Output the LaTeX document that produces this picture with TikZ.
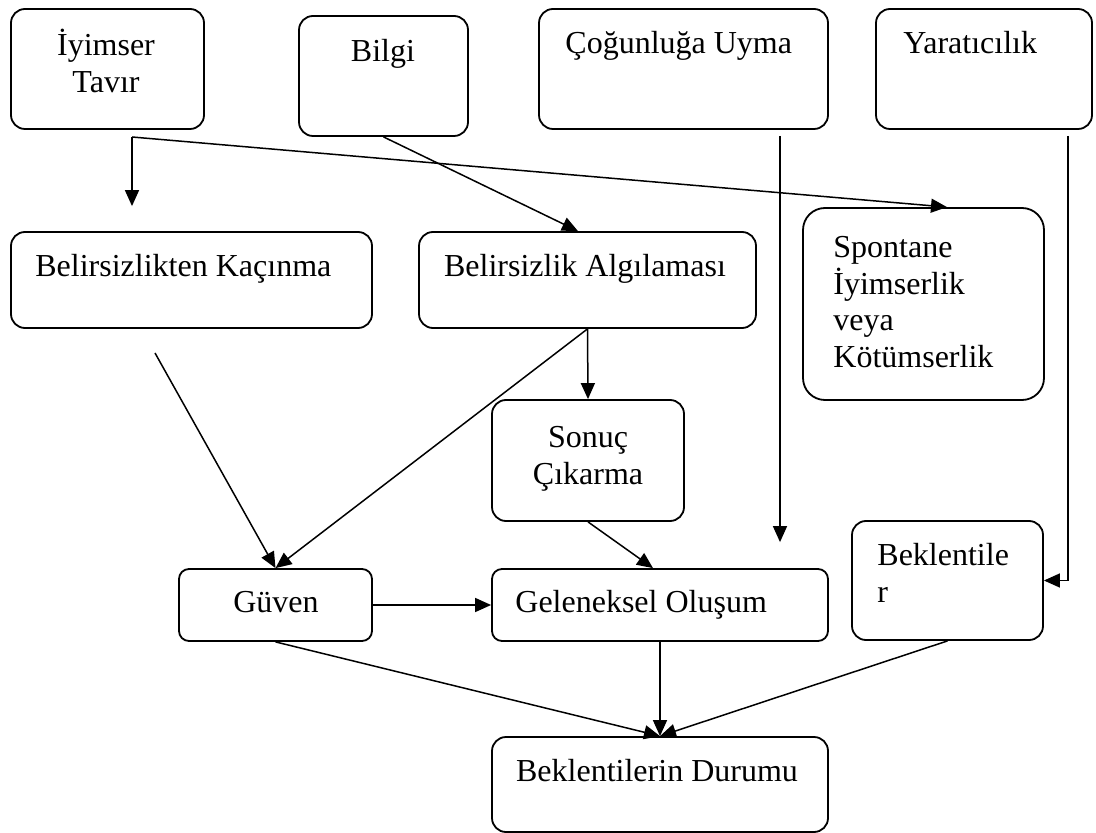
\documentclass[tikz,border=0pt]{standalone}
\usepackage{fontspec}
\setmainfont{Liberation Serif}
\usepackage{tikz}
\usetikzlibrary{
	arrows.meta,
	positioning,
	calc
}

\begin{document}
\begin{tikzpicture}[
		x=0.5pt, y=-0.5pt,
		>={Triangle[length=8pt,width=7pt]},
		box/.style={
			draw,
			line width=0.9pt,
			rounded corners=7pt,
			inner sep=0pt
		},
		txt/.style={
			inner sep=0pt,
			font=\fontsize{16}{18.4}\selectfont
		},
		conn/.style={
			->,
			line width=0.75pt
		}
		]
		\useasboundingbox (0,0) rectangle (1096,833);
		
		% Top row
		\node[box, minimum width=96.5pt, minimum height=60pt] (tavir) at (107.5,69) {};
		\node[txt, align=center, anchor=north] (tavir-t) at (106,25) {\rule{0pt}{15pt}İyimser\\Tavır};
		\node[box, minimum width=84.5pt, minimum height=60pt] (bilgi) at (383.5,76) {};
		\node[txt, anchor=base] (bilgi-t) at (383,62) {Bilgi};
		\node[box, minimum width=144.5pt, minimum height=60pt] (cogunluk) at (683.5,69) {};
		\node[txt, anchor=base west] (cogunluk-t) at (565,54) {Çoğunluğa Uyma};
		\node[box, minimum width=108pt, minimum height=60pt] (yaraticilik) at (984,69) {};
		\node[txt, anchor=base west] (yaraticilik-t) at (903,54) {Yaratıcılık};
		
		% Second row
		\node[box, minimum width=180.5pt, minimum height=48pt] (kacinma) at (191.5,280) {};
		\node[txt, anchor=base west] (kacinma-t) at (35,277) {Belirsizlikten Kaçınma};
		\node[box, minimum width=168.5pt, minimum height=48pt] (algilama) at (587.5,280) {};
		\node[txt, anchor=base] (algilama-t) at (585,277) {Belirsizlik Algılaması};
		\node[box, rounded corners=11pt, minimum width=120.5pt, minimum height=96pt] (spontane) at (923.5,304) {};
		\node[txt, align=left, anchor=north west] (spontane-t) at (833,227) {\rule{0pt}{15pt}Spontane\\İyimserlik\\veya\\Kötümserlik};
		\node[box, minimum width=96pt, minimum height=60.5pt] (sonuc) at (588,460.5) {};
		\node[txt, align=center, anchor=north] (sonuc-t) at (588,417) {\rule{0pt}{15pt}Sonuç\\Çıkarma};
		
		% Third row
		\node[box, rounded corners=5pt, minimum width=96.5pt, minimum height=36pt] (guven) at (275.5,605) {};
		\node[txt, anchor=base] (guven-t) at (276,612) {Güven};
		\node[box, rounded corners=5pt, minimum width=168pt, minimum height=36pt] (geleneksel) at (660,605) {};
		\node[txt, anchor=base west] (geleneksel-t) at (515,612) {Geleneksel Oluşum};
		\node[box, minimum width=95.5pt, minimum height=59.5pt] (beklenti) at (947.5,580.5) {};
		\node[txt, align=left, anchor=north west] (beklenti-t) at (877,535) {\rule{0pt}{15pt}Beklentile\\r};
		
		% Bottom
		\node[box, minimum width=168pt, minimum height=47.5pt] (durum) at (660,784.5) {};
		\node[txt, anchor=base] (durum-t) at (657,781) {Beklentilerin Durumu};
		
		% Free ends
		\coordinate (tavir-j) at (132,137);
		\coordinate (kacinma-out) at (155,353);
		\coordinate (cogunluk-out) at (780,136);
		\coordinate (yaraticilik-out) at (1068,136);
		
		% Connections
		\draw[conn, shorten >=12.5pt] (tavir-j) -- (tavir-j |- kacinma.north);
		\draw[conn] (tavir-j) -- ([xshift=11.75pt]spontane.north);
		\draw[conn] (bilgi.south) -- ([xshift=-4.75pt]algilama.north);
		\draw[conn, shorten >=13pt] (cogunluk-out) -- (cogunluk-out |- geleneksel.north);
		\draw[conn] (yaraticilik-out) |- (beklenti.east);
		\draw[conn] (kacinma-out) -- (guven.north);
		\draw[conn] (algilama.south) -- (sonuc.north);
		\draw[conn] (algilama.south) -- (guven.north);
		\draw[conn] (sonuc.south) -- ([xshift=-3.5pt]geleneksel.north);
		\draw[conn] (guven.east) -- (geleneksel.west);
		\draw[conn] (guven.south) -- (durum.north);
		\draw[conn] (geleneksel.south) -- (durum.north);
		\draw[conn] (beklenti.south) -- (durum.north);
		
	\end{tikzpicture}
\end{document}
